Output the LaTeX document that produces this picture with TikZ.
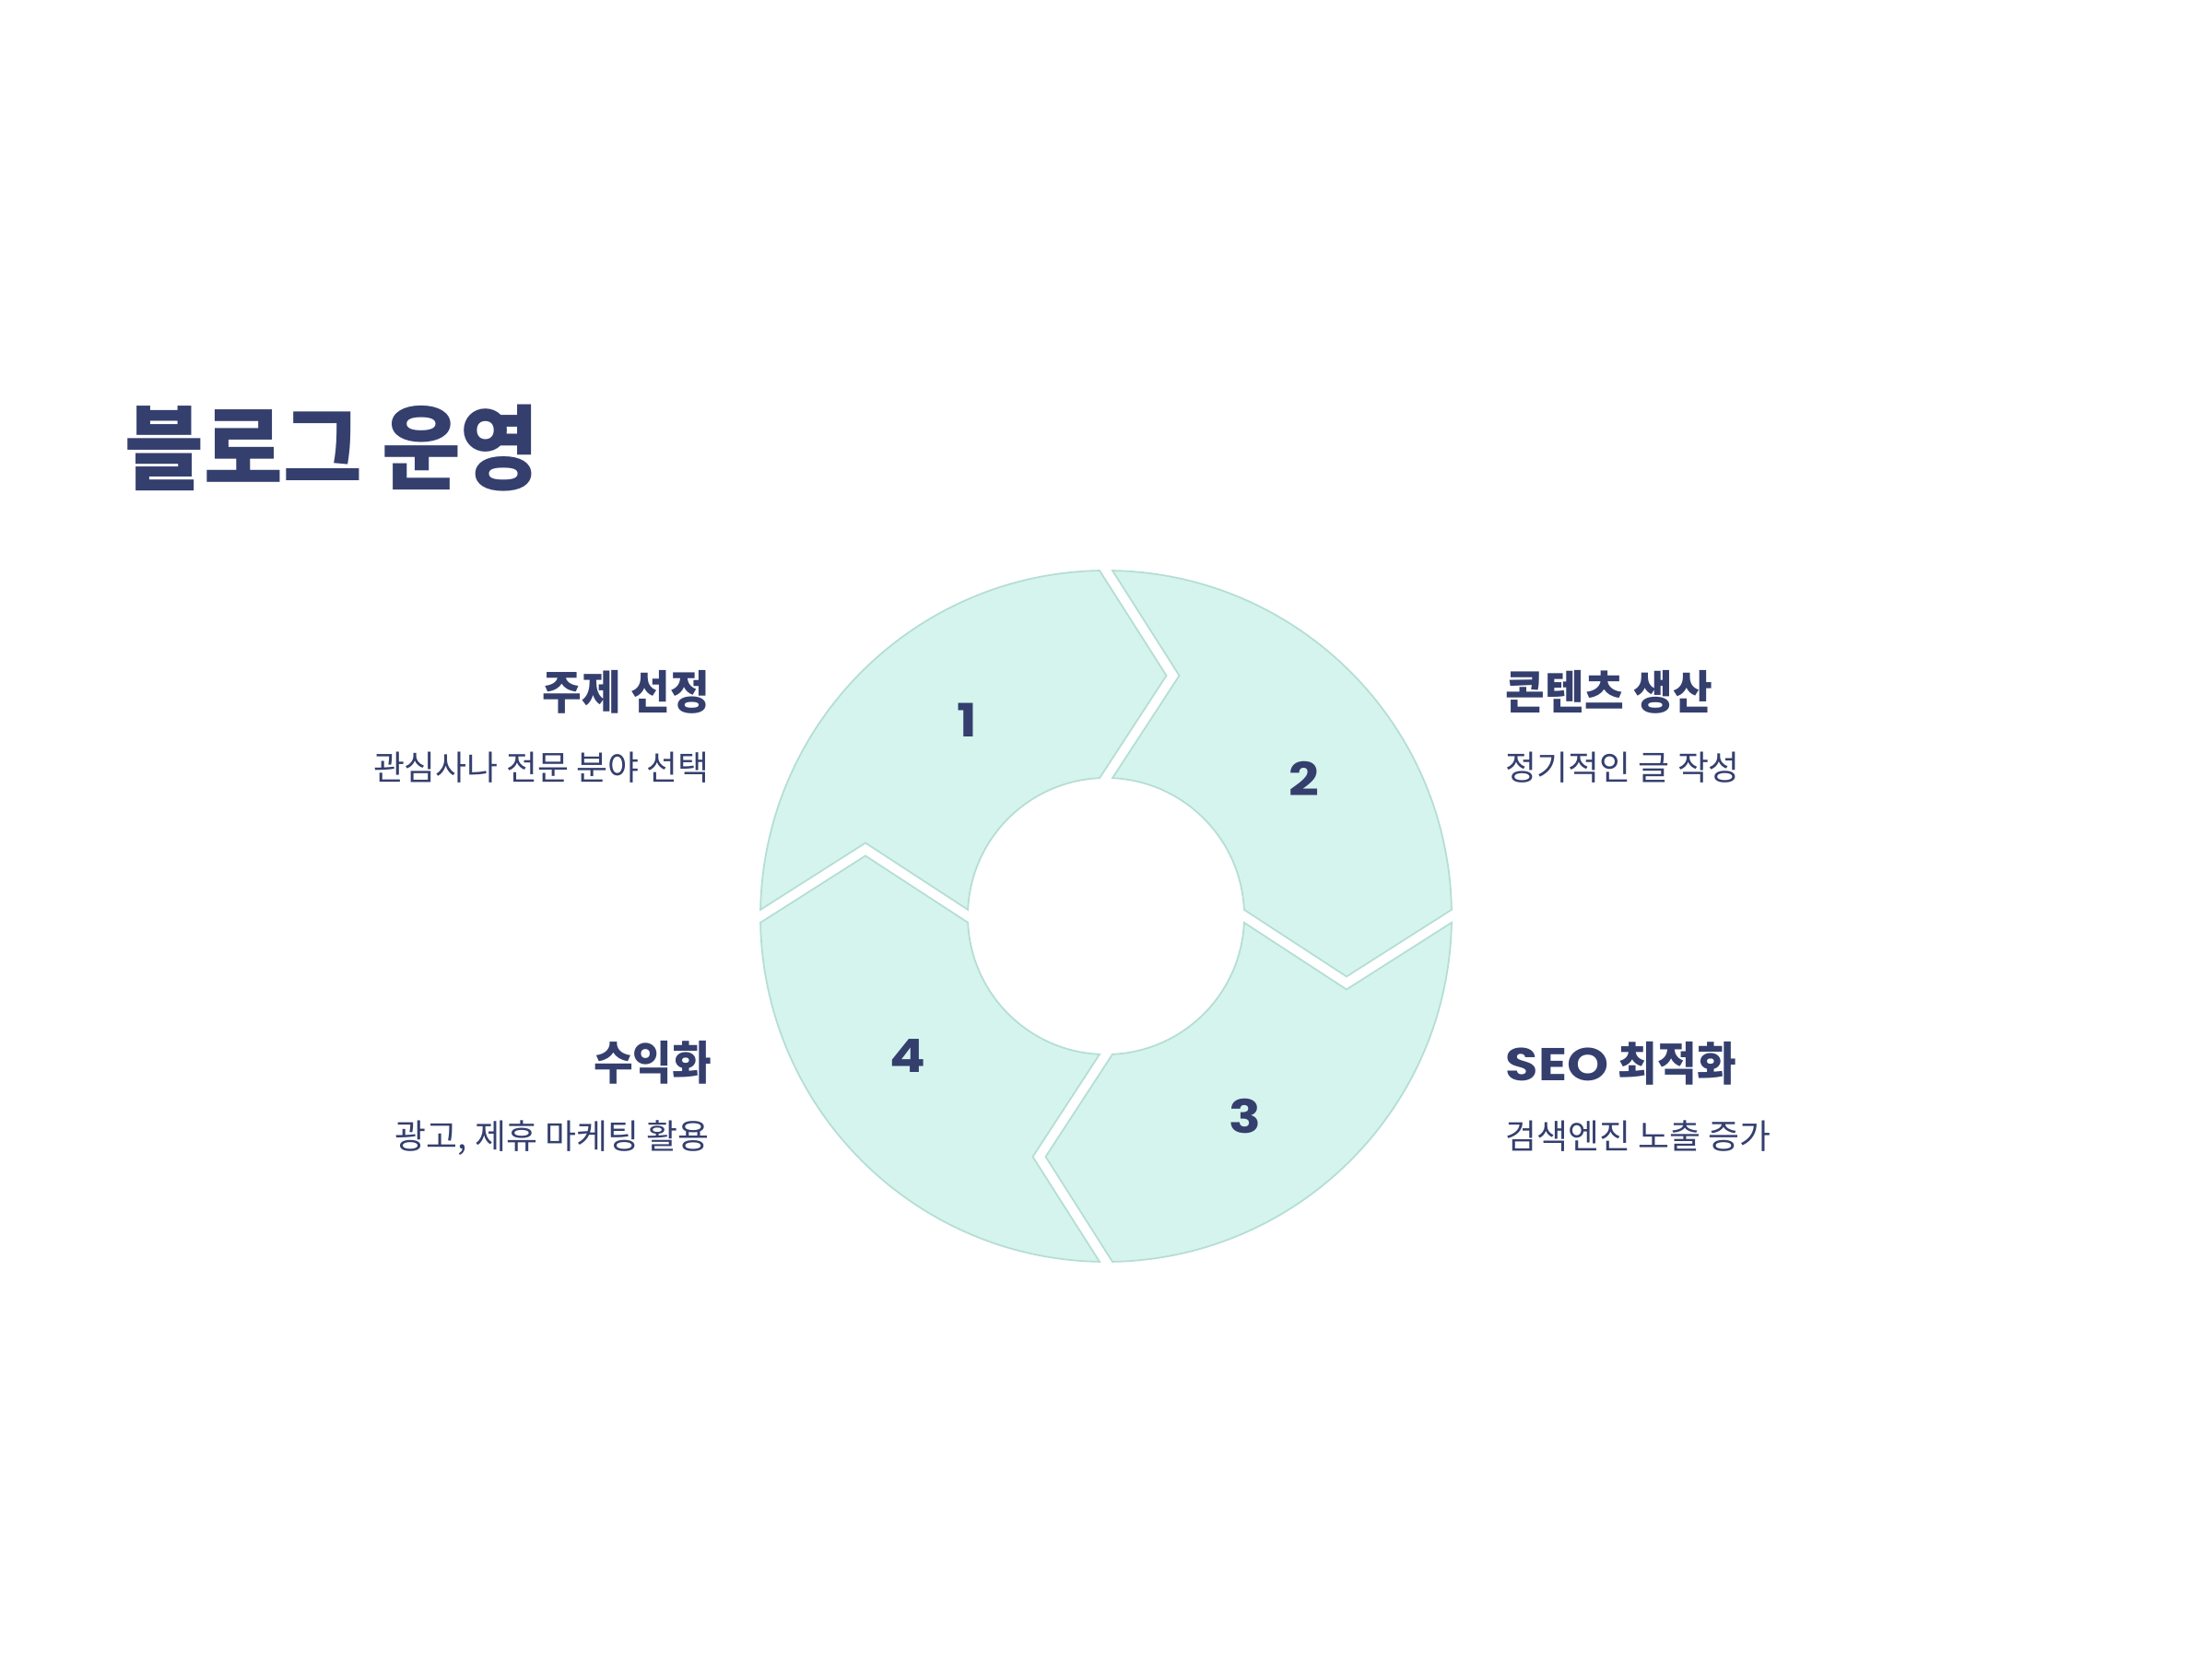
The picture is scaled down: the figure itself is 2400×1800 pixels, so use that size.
\documentclass[tikz,border=0pt]{standalone}
\usepackage{fontspec}
\usepackage{xcolor}
\usepackage{tikz}
\newfontfamily\krfont[FakeStretch=0.93]{Noto Sans CJK KR}
\newfontfamily\krtext{Noto Sans CJK KR}
\newfontfamily\numfont[FakeStretch=1.15]{Poppins}
\definecolor{ink}{HTML}{343F6E}
\definecolor{segfill}{HTML}{D5F4ED}
\definecolor{segline}{HTML}{B4DED4}

\begin{document}
\begin{tikzpicture}[
  x=0.1mm, y=0.1mm,
  seg/.style={fill=segfill, draw=segline, line width=0.5pt, line join=miter},
  title/.style={font=\krfont\bfseries\fontsize{28.5}{30}\selectfont, text=ink, inner sep=0pt, anchor=base west},
  head/.style={font=\krfont\bfseries\fontsize{14.2}{16}\selectfont, text=ink, inner sep=0pt},
  desc/.style={font=\krtext\fontsize{10.5}{12}\selectfont, text=ink, inner sep=0pt},
  num/.style={font=\numfont\bfseries\fontsize{14.2}{16}\selectfont, text=ink, inner sep=0pt}
]
\fill[white] (0,0) rectangle (2400,1800);
\useasboundingbox (0,0) rectangle (2400,1800);

\node[title] (title) at (135,1276) {블로그 운영};

% four arrow pieces of the ring, turned a quarter each time
\foreach \i in {0,1,2,3} {
  \begin{scope}[shift={(1200,806)}, rotate=-90*\i]
    \path[seg] (91.07:375) -- (65.5,261) -- (92.67:150)
      arc[start angle=92.67, end angle=177.33, radius=150]
      -- (-261,79.5) -- (178.93:375)
      arc[start angle=178.93, end angle=91.07, radius=375] -- cycle;
  \end{scope}
}

\node[num] (n1) at (1049,1019) {1};
\node[num] (n2) at (1415,955) {2};
\node[num] (n3) at (1351,589) {3};
\node[num] (n4) at (985,654) {4};

\node[head, anchor=base east] (h1) at (771,1030) {주제 선정};
\node[desc, anchor=base east] (d1) at (770,953) {관심사나 전문 분야 선택};
\node[head, anchor=base west] (h2) at (1633,1030) {콘텐츠 생산};
\node[desc, anchor=base west] (d2) at (1633,953) {정기적인 글 작성};
\node[head, anchor=base west] (h3) at (1633,627) {{\numfont\bfseries SEO} 최적화};
\node[desc, anchor=base west] (d3) at (1633,553) {검색엔진 노출 증가};
\node[head, anchor=base east] (h4) at (773,628) {수익화};
\node[desc, anchor=base east] (d4) at (770,553) {광고, 제휴 마케팅 활용};
\end{tikzpicture}
\end{document}
